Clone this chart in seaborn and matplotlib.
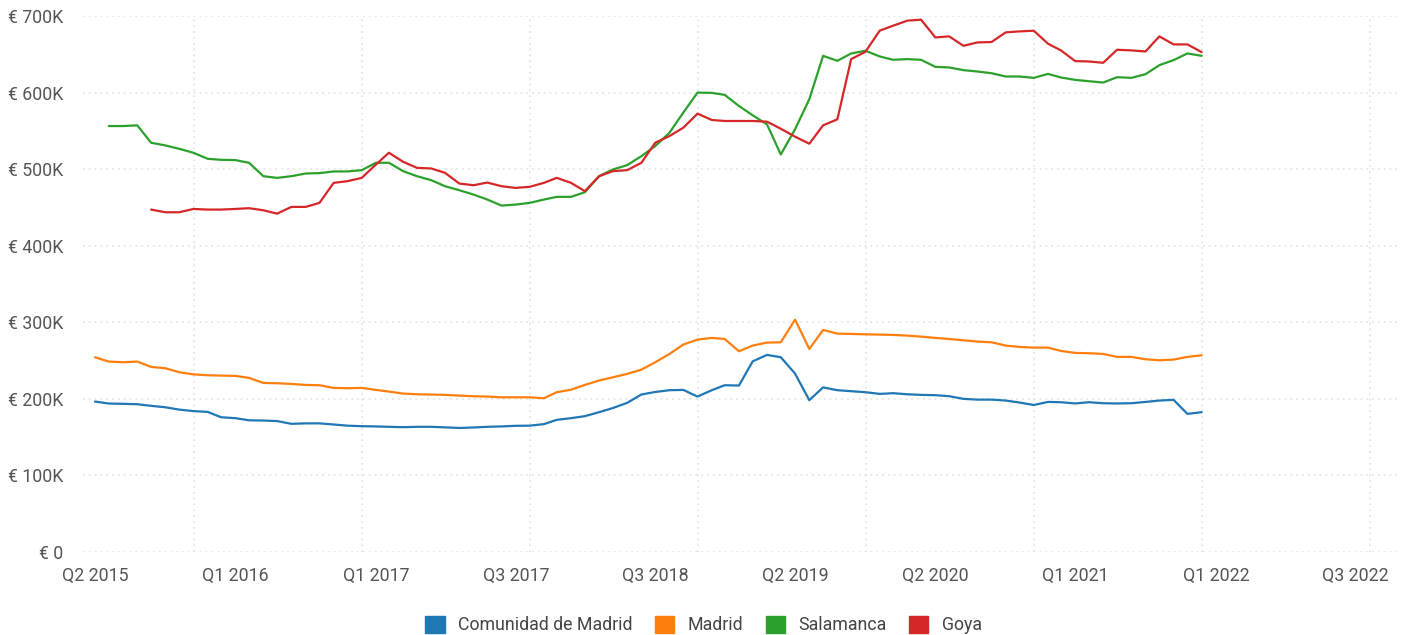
import pandas as pd
import numpy as np
import matplotlib
matplotlib.use("Agg")
import matplotlib.pyplot as plt
import matplotlib.dates as mdates
from matplotlib.patches import Patch
from matplotlib.ticker import FixedLocator, FuncFormatter
import seaborn as sns

# monthly values (thousands of euro), May 2015 .. Dec 2021
months = pd.date_range("2015-05-31", periods=80, freq="ME")

comunidad = [196.5, 193.9, 193.5, 193, 190.9, 189, 186, 184, 183, 176,
             174.8, 172, 171.7, 171, 167.4, 168, 168, 166.5, 165, 164.3,
             164, 163.5, 163, 163.5, 163.5, 162.8, 162, 162.6, 163.5, 164,
             164.8, 165, 167, 172.6, 174.8, 177.4, 182.6, 188, 194.8, 205.7,
             209, 211.3, 211.7, 203, 211.3, 217.8, 217.4, 249, 257.4, 254.4,
             233, 198.3, 215, 211.3, 210, 208.7, 206.5, 207.4, 206, 205.2,
             204.8, 203.5, 200, 199, 199, 197.8, 195.2, 192, 196, 195.6,
             194, 195.6, 194.3, 194, 194.3, 196, 197.8, 198.7, 180.4, 182.6]

madrid = [254.3, 248.7, 247.8, 248.7, 241.7, 240, 234.8, 232, 230.8, 230.4,
          230, 227.4, 220.8, 220.4, 219.5, 218.2, 217.8, 214.3, 213.9, 214.3,
          211.7, 209.5, 206.9, 206, 205.6, 205.2, 204.3, 203.4, 203, 202,
          202, 202, 200.8, 208.7, 212, 218.2, 224, 228.2, 232.6, 238.2,
          247.8, 258.7, 270.9, 277.4, 279.6, 278.2, 262.2, 269.6, 273.5, 273.9,
          303.5, 265.2, 290, 285.2, 284.8, 284.3, 283.9, 283.5, 282.6, 281.3,
          279.6, 278.2, 276.5, 274.8, 273.9, 269.6, 267.8, 266.9, 266.9, 262.6,
          260, 259.6, 258.7, 254.8, 254.8, 251.7, 250.4, 251.3, 254.8, 256.9]

salamanca = [np.nan, 556.3, 556.3, 557.2, 534.5, 531, 526.6, 521.4, 513.5, 512.2,
             511.8, 508.3, 490.8, 488.6, 490.8, 494.3, 494.8, 497, 497, 498.7,
             508.3, 508.3, 497.4, 490.8, 485.6, 477.7, 472.5, 466.8, 460.3, 452.4,
             453.7, 455.9, 460.3, 463.8, 463.8, 469.9, 490.8, 499.6, 505.2, 517,
             530.1, 547.6, 573.8, 600, 599.6, 597, 582.5, 570.3, 558.5, 519.2,
             552, 591.3, 648, 641.5, 651.1, 654.6, 647.2, 642.8, 643.7, 642.8,
             633.6, 632.8, 629.3, 627.5, 625.3, 621, 621, 619.2, 624.4, 619.7,
             616.6, 614.8, 613.1, 620.1, 619.2, 624, 635.8, 642.4, 651.1, 648]

goya = [np.nan, np.nan, np.nan, np.nan, 447.2, 443.7, 443.7, 448, 447.2, 447.2,
        448, 449, 446.3, 441.9, 450.7, 450.7, 455.9, 482.1, 484.3, 488.6,
        506.1, 521.4, 509.6, 501.7, 500.9, 495.2, 481.2, 479, 482.5, 477.7,
        475.5, 476.9, 482.1, 488.6, 482.1, 471.2, 490.8, 497.4, 498.7, 508.3,
        534.5, 543.2, 554.1, 572.5, 564.2, 562.9, 562.9, 562.9, 562, 552.8,
        542.4, 533.2, 557.2, 565.1, 643.7, 653.3, 680.8, 687.3, 693.9, 695.2,
        672, 673.4, 661.1, 665.5, 666, 678.6, 679.9, 680.8, 663.8, 655.1,
        641.1, 640.6, 638.9, 655.9, 655.1, 653.7, 673.4, 662.9, 662.9, 652.8]

series_names = ["Comunidad de Madrid", "Madrid", "Salamanca", "Goya"]
colors = ["#1f77b4", "#ff7f0e", "#2ca02c", "#d62728"]

tick_dates = pd.to_datetime(["2015-06-01", "2016-04-01", "2017-02-01", "2017-12-01",
                             "2018-10-01", "2019-08-01", "2020-06-01", "2021-04-01",
                             "2022-02-01", "2022-12-01"])
tick_labels = ["Q2 2015", "Q1 2016", "Q1 2017", "Q3 2017", "Q3 2018",
               "Q2 2019", "Q2 2020", "Q1 2021", "Q1 2022", "Q3 2022"]

# long format for seaborn
frames = []
for name, vals in zip(series_names, [comunidad, madrid, salamanca, goya]):
    frames.append(pd.DataFrame({"date": months, "price": np.array(vals) * 1000, "zona": name}))
df = pd.concat(frames).dropna()

sns.set_theme(style="white")
plt.rcParams["font.family"] = ["Roboto", "DejaVu Sans"]

fig = plt.figure(figsize=(14.07, 6.35), dpi=100)
ax = fig.add_axes([0.059, 0.1307, 0.934, 0.8441])

sns.lineplot(data=df, x="date", y="price", hue="zona", hue_order=series_names,
             palette=colors, estimator=None, linewidth=1.6, legend=False, ax=ax)

ax.set_xlim(pd.Timestamp("2015-05-05"), pd.Timestamp("2023-03-01"))
ax.set_ylim(0, 700000)

grid_kw = dict(color="#e2e2e2", linestyle=(0, (1, 2.5)), linewidth=1.2)

# y axis
ax.yaxis.set_major_locator(FixedLocator(np.arange(0, 700001, 100000)))
ax.yaxis.set_major_formatter(FuncFormatter(lambda v, p: "€ 0" if v == 0 else f"€ {int(v / 1000)}K"))
ax.grid(axis="y", which="major", **grid_kw)

# x axis: labels at fixed spots, yearly vertical gridlines
ax.xaxis.set_major_locator(FixedLocator(mdates.date2num(tick_dates)))
ax.set_xticklabels(tick_labels)
ax.xaxis.set_minor_locator(mdates.YearLocator())
ax.grid(axis="x", which="minor", **grid_kw)
ax.grid(axis="x", which="major", visible=False)

ax.tick_params(axis="both", which="both", length=0, labelsize=12.8, labelcolor="#555555")
ax.tick_params(axis="y", pad=14)
ax.tick_params(axis="x", pad=11)
ax.set_xlabel("")
ax.set_ylabel("")
sns.despine(ax=ax, left=True, bottom=True)

handles = [Patch(facecolor=c, edgecolor=c, label=n) for n, c in zip(series_names, colors)]
fig.legend(handles=handles, loc="lower center", bbox_to_anchor=(0.5, -0.024), ncol=4,
           frameon=False, fontsize=12.8, handlelength=1.1, handleheight=1.1,
           handletextpad=0.75, columnspacing=1.25, labelcolor="#444444")

fig.savefig("out.png", dpi=100)
